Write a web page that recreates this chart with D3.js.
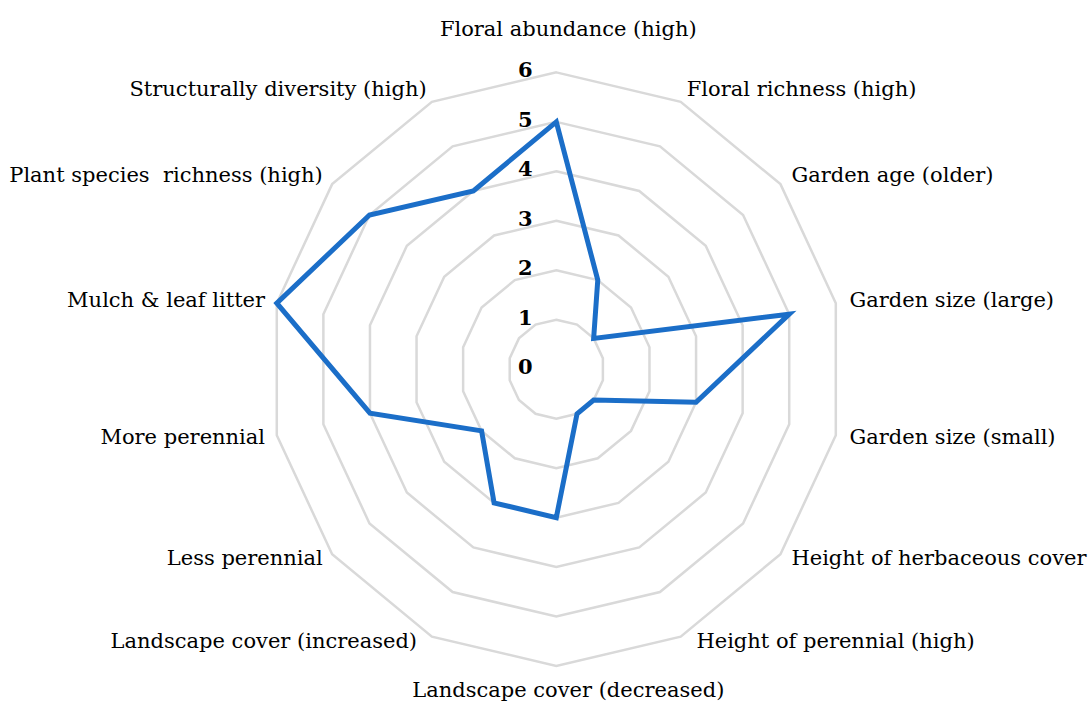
<!DOCTYPE html>
<html>
<head>
<meta charset="utf-8">
<script src="https://cdn.jsdelivr.net/npm/d3@7"></script>
<style>
  body { margin: 0; background: #fff; }
  text { font-family: "DejaVu Serif", serif; fill: #000; }
</style>
</head>
<body>
<svg width="1090" height="704"></svg>
<script>
// categories, clockwise from the top
var categories = [
    "Floral abundance (high)", "Floral richness (high)", "Garden age (older)",
    "Garden size (large)", "Garden size (small)", "Height of herbaceous cover",
    "Height of perennial (high)", "Landscape cover (decreased)",
    "Landscape cover (increased)", "Less perennial", "More perennial",
    "Mulch & leaf litter", "Plant species  richness (high)",
    "Structurally diversity (high)"
];
var values = [5, 2, 1, 5, 3, 1, 1, 3, 3, 2, 4, 6, 5, 4];
var ticks = [0, 1, 2, 3, 4, 5, 6];

var svg = d3.select("svg");
var cx = 556.3, cy = 369.2;
var n = categories.length;

// slightly narrower horizontally than vertically, like the original
var rx = d3.scaleLinear().domain([0, 6]).range([0, 286.7]);
var ry = d3.scaleLinear().domain([0, 6]).range([0, 296.8]);
var angle = d3.scalePoint().domain(d3.range(n + 1)).range([0, 2 * Math.PI]);

function px(i, v) { return cx + Math.sin(angle(i % n)) * rx(v); }
function py(i, v) { return cy - Math.cos(angle(i % n)) * ry(v); }

var line = d3.line()
    .x(function(d) { return px(d.i, d.v); })
    .y(function(d) { return py(d.i, d.v); })
    .curve(d3.curveLinearClosed);

// grid rings
svg.append("g")
    .attr("class", "grid")
    .selectAll("path")
    .data(ticks.filter(function(t) { return t > 0; }))
    .enter().append("path")
    .attr("d", function(t) {
        return line(d3.range(n).map(function(i) { return {i: i, v: t}; }));
    })
    .attr("fill", "none")
    .attr("stroke", "#d9d9d9")
    .attr("stroke-width", 2.5);

// tick labels, left of the top spoke
svg.append("g")
    .selectAll("text")
    .data(ticks)
    .enter().append("text")
    .attr("x", cx - 31)
    .attr("y", function(t) { return cy - ry(t) + 5; })
    .attr("text-anchor", "middle")
    .attr("font-size", 21)
    .attr("font-weight", "bold")
    .text(function(t) { return t; });

// series
svg.append("path")
    .datum(values.map(function(v, i) { return {i: i, v: v}; }))
    .attr("d", line)
    .attr("fill", "none")
    .attr("stroke", "#1b6ec8")
    .attr("stroke-width", 5)
    .attr("stroke-linejoin", "miter");

// category labels
svg.append("g")
    .selectAll("text")
    .data(categories)
    .enter().append("text")
    .attr("font-size", 21)
    .attr("dy", "0.35em")
    .style("white-space", "pre")
    .attr("text-anchor", function(d, i) {
        var s = Math.sin(angle(i));
        return Math.abs(s) < 0.01 ? "middle" : (s > 0 ? "start" : "end");
    })
    .attr("x", function(d, i) {
        var s = Math.sin(angle(i)), c = Math.cos(angle(i));
        if (Math.abs(s) < 0.01) return cx + 12;
        var off = (s > 0 ? 14 : 12) + (c < -0.8 ? 13 : 0);
        return cx + s * (rx(6) + off) + (c < -0.8 ? (s > 0 ? 4 : -4) : 0);
    })
    .attr("y", function(d, i) {
        var c = Math.cos(angle(i));
        if (c > 0.99) return cy - ry(6) - 44;
        if (c < -0.99) return cy + ry(6) + 24;
        return cy - c * (ry(6) + (c > 0 ? 15 : 5));
    })
    .text(function(d) { return d; });
</script>
</body>
</html>
